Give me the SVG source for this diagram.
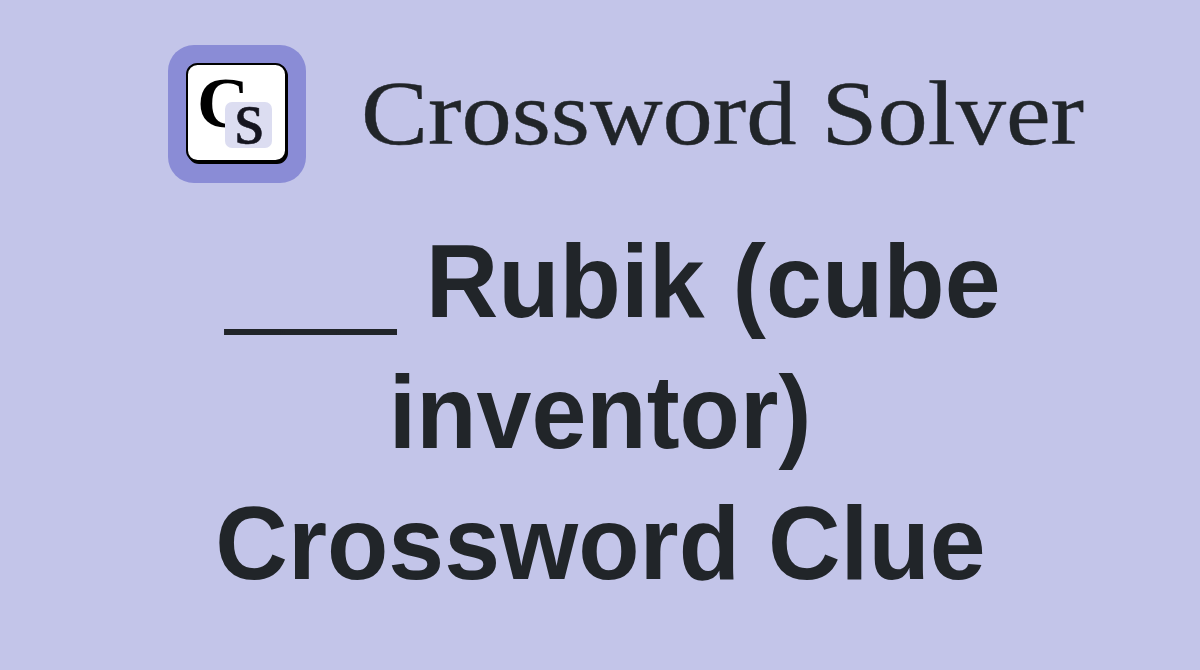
<svg xmlns="http://www.w3.org/2000/svg" width="1200" height="670" viewBox="0 0 1200 670">
<style>
.t{font-family:"Liberation Sans",Arial,sans-serif;font-weight:700;font-size:104px;fill:#212529;text-anchor:middle}
.u{font-size:105px;stroke:#212529;stroke-width:2}
.s{font-family:"Liberation Serif","Times New Roman",serif}
</style>
<rect width="1200" height="670" fill="#c3c5e9"/>
<g id="logo">
<rect x="168" y="45" width="138" height="138" rx="26" fill="#8a8cd6"/>
<rect x="188" y="65" width="100" height="99" rx="11" fill="#000"/>
<rect x="187" y="64" width="99" height="97" rx="10.500" fill="#fff" stroke="#000" stroke-width="2"/>
<text class="s" x="197" y="127" font-size="72" font-weight="700" fill="#000">C</text>
<rect x="225" y="102" width="47" height="46" rx="7" fill="#dcddf1"/>
<text class="s" x="234.500" y="143" font-size="76" fill="#151520" stroke="#151520" stroke-width=".6">s</text>
</g>
<text id="brand" class="s" x="361" y="143.500" font-size="92" fill="#212529" stroke="#212529" stroke-width=".4" textLength="723" lengthAdjust="spacingAndGlyphs">Crossword Solver</text>
<g id="title">
<text class="t" transform="translate(226 317.300) scale(.966 1)" style="text-anchor:start"><tspan class="u" x="0" dy="3.500">___</tspan><tspan x="206.700" dy="-3.500">Rubik (cube</tspan></text>
<text class="t" transform="translate(600 448.300) scale(.95 1)">inventor)</text>
<text class="t" transform="translate(600.500 579.300) scale(.966 1)">Crossword Clue</text>
</g>
</svg>
